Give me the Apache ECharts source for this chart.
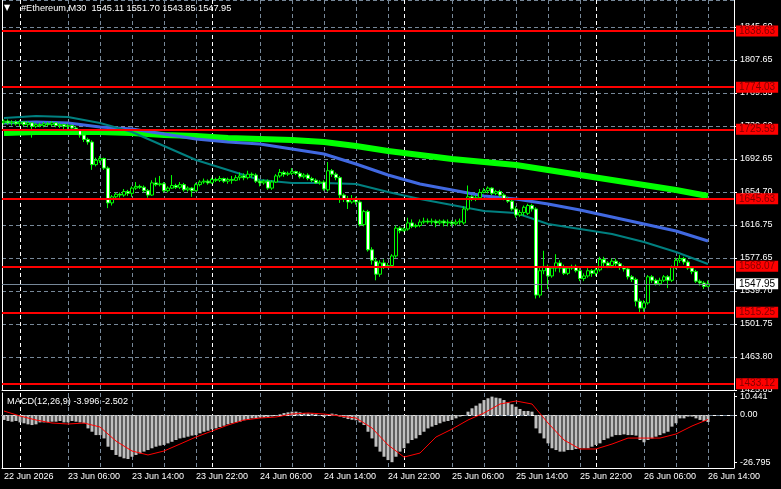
<!DOCTYPE html>
<html>
<head>
<meta charset="utf-8">
<script src="https://cdn.jsdelivr.net/npm/echarts@6/dist/echarts.min.js"></script>
<style>
html, body { margin: 0; padding: 0; background: #000; }
#chart { width: 781px; height: 489px; }
</style>
</head>
<body>
<div id="chart"></div>
<script>
// M30 bars, [open, close, low, high]
var candles = [
    [1733,1735,1731,1737],[1735,1733,1731,1737],[1733,1734,1730,1736],[1734,1732,1730,1736],
    [1732,1734,1729,1736],[1734,1731,1729,1735],[1731,1733,1728,1735],[1733,1729,1716,1734],
    [1729,1731,1727,1733],[1731,1730,1728,1733],[1730,1732,1728,1734],[1732,1731,1729,1734],
    [1731,1733,1729,1735],[1733,1730,1728,1734],[1730,1731,1727,1733],[1731,1729,1726,1732],
    [1729,1730,1726,1732],[1730,1727,1724,1731],[1727,1724,1721,1729],[1724,1719,1716,1726],
    [1719,1714,1711,1721],[1714,1711,1708,1716],[1711,1685,1679,1713],[1685,1690,1683,1693],
    [1690,1692,1687,1695],[1692,1681,1679,1693],[1681,1641,1635,1683],[1641,1648,1638,1650],
    [1648,1651,1646,1653],[1651,1650,1647,1653],[1650,1654,1648,1657],[1654,1652,1649,1656],
    [1652,1658,1648,1660],[1658,1660,1656,1665],[1660,1659,1657,1662],[1659,1655,1653,1661],
    [1655,1650,1647,1657],[1650,1664,1649,1667],[1664,1662,1660,1670],[1662,1663,1660,1672],
    [1663,1655,1653,1665],[1655,1658,1653,1660],[1658,1661,1657,1673],[1661,1659,1657,1663],
    [1659,1662,1657,1665],[1662,1656,1654,1664],[1656,1658,1654,1660],[1658,1655,1648,1659],
    [1655,1662,1654,1664],[1662,1665,1660,1667],[1665,1666,1663,1669],[1666,1664,1662,1668],
    [1664,1668,1663,1670],[1668,1667,1665,1670],[1667,1669,1665,1672],[1669,1666,1664,1670],
    [1666,1668,1663,1670],[1668,1667,1663,1672],[1667,1670,1666,1673],[1670,1672,1667,1676],
    [1672,1670,1667,1675],[1670,1674,1668,1678],[1674,1673,1670,1676],[1673,1666,1664,1675],
    [1666,1664,1660,1668],[1664,1666,1662,1668],[1666,1658,1656,1668],[1658,1665,1656,1667],
    [1665,1672,1664,1674],[1672,1676,1670,1680],[1676,1674,1671,1678],[1674,1675,1672,1677],
    [1675,1677,1673,1681],[1677,1675,1673,1678],[1675,1671,1669,1677],[1671,1673,1669,1675],
    [1673,1669,1667,1675],[1669,1667,1665,1671],[1667,1664,1663,1669],[1664,1665,1662,1667],
    [1665,1657,1655,1667],[1656,1678,1654,1688],[1678,1674,1671,1680],[1674,1670,1667,1676],
    [1670,1650,1641,1672],[1650,1645,1642,1652],[1645,1642,1634,1649],[1642,1646,1640,1650],
    [1646,1642,1639,1648],[1642,1616,1614,1644],[1616,1631,1614,1633],[1631,1587,1585,1633],
    [1587,1575,1570,1590],[1574,1559,1552,1578],[1559,1572,1556,1575],[1572,1567,1565,1576],
    [1567,1569,1566,1572],[1569,1580,1567,1582],[1580,1612,1578,1615],[1612,1609,1606,1614],
    [1609,1611,1608,1613],[1611,1618,1609,1624],[1618,1614,1612,1622],[1614,1615,1612,1617],
    [1615,1619,1613,1622],[1619,1620,1617,1624],[1620,1619,1617,1623],[1619,1620,1616,1623],
    [1620,1618,1613,1622],[1618,1620,1616,1622],[1620,1618,1614,1622],[1618,1619,1614,1622],
    [1619,1617,1614,1621],[1617,1619,1615,1622],[1619,1620,1616,1623],[1618,1634,1616,1637],
    [1634,1648,1632,1661],[1648,1645,1643,1650],[1645,1647,1643,1650],[1647,1653,1645,1657],
    [1653,1655,1652,1658],[1655,1658,1652,1660],[1658,1652,1650,1659],[1652,1654,1650,1656],
    [1654,1650,1648,1656],[1650,1646,1644,1652],[1646,1643,1641,1648],[1643,1634,1632,1645],
    [1634,1627,1624,1637],[1627,1630,1625,1633],[1630,1636,1626,1638],[1629,1638,1627,1640],
    [1638,1634,1631,1640],[1634,1535,1531,1636],[1535,1563,1532,1567],[1563,1568,1559,1586],
    [1568,1557,1542,1570],[1557,1566,1555,1568],[1566,1572,1562,1582],[1572,1566,1561,1575],
    [1566,1560,1558,1570],[1560,1566,1558,1568],[1566,1568,1564,1570],[1568,1563,1561,1570],
    [1563,1554,1551,1566],[1554,1557,1551,1560],[1557,1563,1555,1566],[1563,1560,1556,1565],
    [1560,1564,1557,1566],[1564,1576,1562,1579],[1576,1572,1568,1579],[1572,1569,1566,1574],
    [1569,1574,1566,1577],[1574,1571,1567,1577],[1571,1567,1564,1573],[1567,1565,1562,1569],
    [1565,1556,1553,1567],[1556,1553,1550,1558],[1553,1528,1522,1555],[1528,1520,1514,1531],
    [1520,1526,1516,1529],[1526,1556,1524,1558],[1556,1552,1549,1558],[1552,1548,1546,1554],
    [1548,1552,1546,1555],[1552,1556,1550,1558],[1556,1552,1543,1558],[1552,1567,1550,1569],
    [1567,1575,1565,1578],[1575,1577,1572,1581],[1577,1573,1570,1579],[1573,1566,1564,1575],
    [1566,1562,1559,1568],[1562,1551,1549,1564],[1551,1549,1546,1553],[1549,1545,1542,1551],
    [1545.11,1547.95,1543.85,1551.70]
];

// moving averages, read every 8 bars
var maStep = 8;
var maFast = [1738.65,1740.95,1739.8,1732.9,1722.55,1706.45,1690.35,1678.85,1667.35,1663.9,1663.9,1662.75,
    1653.55,1645.5,1638.6,1631.7,1629.4,1616.75,1611.0,1605.25,1596.05,1584.55,1570.75];
var maMid = [1732.9,1734.05,1732.9,1728.3,1726.0,1720.25,1714.5,1711.05,1708.75,1703.0,1697.25,1685.75,
    1673.1,1662.75,1655.85,1648.95,1645.5,1639.75,1632.85,1624.8,1616.75,1608.7,1597.2];
var maSlow = [1721.4,1722.55,1722.55,1722.55,1721.4,1719.1,1717.95,1715.65,1714.5,1713.35,1711.05,1706.45,
    1700.7,1696.1,1691.5,1688.05,1684.6,1678.85,1673.1,1667.35,1661.6,1655.85,1648.95];

// MACD(12,26,9): main line per bar, signal read every 4 bars
var macdMain = [
    -2.8,-3.4,-3.8,-3.4,-4.2,-4.7,-5.3,-5.7,-5.3,-4.2,-4.2,-4.2,-3.8,-3.8,-3.4,-4.2,-4.2,-3.4,-3.8,-4.2,-4.7,
    -7.6,-9.5,-11.4,-11.4,-13.3,-18.0,-19.9,-22.7,-23.7,-24.6,-25.0,
    -23.7,-22.7,-21.8,-20.8,-19.9,-18.9,-18.0,-17.4,-17.0,-16.1,-15.2,-14.2,-13.3,-12.9,-12.3,-11.7,-11.4,
    -10.4,-9.5,-8.9,-8.1,-7.6,-6.8,-6.1,-5.3,-4.7,-4.2,-3.8,-3.0,-2.7,-1.9,-1.9,-1.5,-1.5,-1.1,-0.8,-0.4,
    0.4,1.1,1.5,1.9,1.9,1.5,1.1,0.9,0.8,0.4,0.0,-1.1,0.4,0.8,0.4,-0.9,-1.5,-2.3,-2.7,-3.0,-4.2,-5.7,-9.5,
    -13.3,-18.0,-20.8,-23.7,-25.6,
    -26.795,-23.7,-20.8,-18.9,-16.1,-14.2,-13.3,-11.4,-9.5,-7.6,-6.6,-5.7,-4.7,-3.8,-3.4,-2.8,-1.9,-0.9,-0.4,
    1.9,3.8,5.3,6.6,8.5,9.5,10.441,9.85,9.5,8.5,7.2,6.1,4.7,3.4,2.3,2.3,1.9,
    -7.6,-10.4,-13.3,-16.1,-18.9,-19.9,-20.8,-20.8,-19.9,-19.9,-19.3,-18.9,-18.9,-18.9,-18.0,-17.0,-16.1,
    -14.2,-13.3,-12.3,-11.4,-11.4,-11.0,-11.4,-11.4,-11.7,-14.2,-15.5,-14.2,-13.3,-12.3,-11.4,-10.4,-9.5,
    -6.6,-4.7,-1.9,-1.9,-0.9,-0.9,-1.9,-2.8,-3.4,-3.996
];
var signalStep = 4;
var macdSignal = [2.27,-0.57,-2.84,-4.55,-5.11,-4.55,-6.82,-14.8,-20.45,-22.7,-20.45,-16.5,-12.5,-9.1,-5.7,
    -2.84,-1.7,-1.14,0.57,1.14,0.57,-0.57,-1.7,-7.4,-17.0,-23.9,-21.6,-12.5,-8.0,-2.84,1.14,6.25,7.95,6.25,
    -4.55,-14.2,-19.3,-19.3,-16.5,-13.1,-13.1,-13.1,-10.8,-6.25,-2.502];

var levels = [1838.63, 1774.03, 1725.59, 1645.63, 1568.07, 1515.25, 1433.12];
var lastPrice = 1547.95;

var priceTicks = ['1425.85','1463.80','1501.75','1539.70','1577.65','1616.75','1654.70','1692.65',
    '1730.60','1769.55','1807.65','1845.60'];
var macdTicks = [10.441, 0, -26.795];
var timeTicks = ['22 Jun 2026','23 Jun 06:00','23 Jun 14:00','23 Jun 22:00','24 Jun 06:00','24 Jun 14:00',
    '24 Jun 22:00','25 Jun 06:00','25 Jun 14:00','25 Jun 22:00','26 Jun 06:00','26 Jun 14:00'];
var tickEvery = 16;

var slotCount = 183;
var months = ['Jan','Feb','Mar','Apr','May','Jun','Jul','Aug','Sep','Oct','Nov','Dec'];
var start = Date.UTC(2026, 5, 22, 22, 0);
var cats = [];
for (var n = 0; n < slotCount; n++) {
    var d = new Date(start + n * 1800000);
    cats.push(d.getUTCDate() + ' ' + months[d.getUTCMonth()] + ' ' +
        ('0' + d.getUTCHours()).slice(-2) + ':' + ('0' + d.getUTCMinutes()).slice(-2));
}

function spread(values, step) {
    var out = [];
    for (var i = 0; i < candles.length; i++) {
        out.push(i % step === 0 ? values[i / step] : null);
    }
    return out;
}

var font = 'Liberation Sans';
var gridGray = '#778899';

// 4-hour grid (no line at 02:00), white dashed separator at midnight
function isGridLine(i) { return i > 0 && i % 8 === 0 && i % 48 !== 8 && i < candles.length; }
function isSeparator(i) { return i % 48 === 4; }

function xAxis(grid, position, lineFn, color) {
    return {
        type: 'category', gridIndex: grid, position: position, data: cats, boundaryGap: true,
        axisLine: { show: false },
        axisTick: { show: false },
        axisLabel: { show: false },
        splitLine: {
            show: true, interval: function (i) { return lineFn(i); }, alignWithLabel: true,
            lineStyle: { color: color, width: 1, type: [4, 3] }
        }
    };
}

var xMain = xAxis(0, 'bottom', isGridLine, gridGray);
xMain.axisLine = { show: true, lineStyle: { color: '#fff', width: 1 } };
var xMainSep = xAxis(0, 'top', isSeparator, '#fff');
var xMacd = xAxis(1, 'bottom', isGridLine, gridGray);
xMacd.axisLine = { show: true, lineStyle: { color: '#fff', width: 1 } };
xMacd.axisTick = {
    show: true, alignWithLabel: true, length: 3, lineStyle: { color: '#fff' },
    interval: function (i) { return i % tickEvery === 0 && i < candles.length; }
};
xMacd.axisLabel = {
    show: true, color: '#fff', fontFamily: font, fontSize: 9, margin: 4, align: 'left',
    interval: function (i) { return i % tickEvery === 0 && i < candles.length; },
    formatter: function (v, i) { return timeTicks[i / tickEvery] || ''; }
};
var xMacdSep = xAxis(1, 'top', isSeparator, '#fff');
xMacdSep.axisLine = { show: true, lineStyle: { color: '#fff', width: 1 } };

var priceMin = 1425.85, priceStep = 37.95;

function borderAxis(grid) {
    return {
        type: 'value', gridIndex: grid, position: 'left',
        axisLine: { show: true, lineStyle: { color: '#fff' } },
        axisTick: { show: false }, axisLabel: { show: false }, splitLine: { show: false }
    };
}

var levelLines = levels.map(function (v) {
    return {
        yAxis: v,
        lineStyle: { color: '#ff0000', width: 2, type: 'solid' },
        label: { backgroundColor: '#ff0000', color: '#800000' }
    };
});
levelLines.push({
    yAxis: lastPrice,
    lineStyle: { color: '#778899', width: 1, type: 'solid' },
    label: { backgroundColor: '#ffffff', color: '#000000' }
});

var option = {
    backgroundColor: '#000',
    animation: false,
    title: [
        { text: '\u25BC', left: 4, top: 4, padding: 0,
          textStyle: { color: '#fff', fontSize: 8, fontFamily: 'DejaVu Sans', fontWeight: 'normal' } },
        { text: '#Ethereum,M30  1545.11 1551.70 1543.85 1547.95', left: 21, top: 4, padding: 0,
          textStyle: { color: '#fff', fontSize: 9.2, fontFamily: font, fontWeight: 'normal' } },
        { text: 'MACD(12,26,9) -3.996 -2.502', left: 7, top: 397, padding: 0,
          textStyle: { color: '#fff', fontSize: 9.2, fontFamily: font, fontWeight: 'normal' } }
    ],
    grid: [
        { left: 2, right: 47, top: 0, height: 390 },
        { left: 2, right: 47, top: 393, height: 75 }
    ],
    xAxis: [xMain, xMainSep, xMacd, xMacdSep],
    yAxis: [
        {
            type: 'value', gridIndex: 0, position: 'right',
            min: priceMin, max: 1874.3, interval: priceStep,
            axisLine: { show: true, lineStyle: { color: '#fff' } },
            axisTick: { show: true, length: 3, lineStyle: { color: '#fff' } },
            axisLabel: {
                color: '#fff', fontFamily: font, fontSize: 9, margin: 6, showMaxLabel: false,
                formatter: function (v) {
                    return priceTicks[Math.round((v - priceMin) / priceStep)] || '';
                }
            },
            splitLine: { show: true, lineStyle: { color: gridGray, width: 1, type: [4, 3] } }
        },
        borderAxis(0),
        {
            type: 'value', gridIndex: 1, position: 'right', min: -30.1, max: 12.5,
            axisLine: { show: true, lineStyle: { color: '#fff' } },
            axisTick: { show: true, length: 3, customValues: macdTicks, lineStyle: { color: '#fff' } },
            axisLabel: {
                color: '#fff', fontFamily: font, fontSize: 9, margin: 6, customValues: macdTicks,
                formatter: function (v) { return v === 0 ? '0.00' : v.toFixed(3); }
            },
            splitLine: { show: false }
        },
        borderAxis(1)
    ],
    series: [
        {
            name: 'MA slow', type: 'line', xAxisIndex: 0, yAxisIndex: 0,
            data: spread(maSlow, maStep), connectNulls: true, showSymbol: false, symbol: 'none',
            lineStyle: { color: '#00ff00', width: 6 }, z: 2
        },
        {
            name: 'MA mid', type: 'line', xAxisIndex: 0, yAxisIndex: 0,
            data: spread(maMid, maStep), connectNulls: true, showSymbol: false, symbol: 'none',
            lineStyle: { color: '#4169e1', width: 3 }, z: 2
        },
        {
            name: 'MA fast', type: 'line', xAxisIndex: 0, yAxisIndex: 0,
            data: spread(maFast, maStep), connectNulls: true, showSymbol: false, symbol: 'none',
            lineStyle: { color: '#008080', width: 2 }, z: 2
        },
        {
            name: '#Ethereum', type: 'candlestick', xAxisIndex: 0, yAxisIndex: 0,
            data: candles, barWidth: 3, z: 3,
            itemStyle: {
                color: '#000000', color0: '#ffffff',
                borderColor: '#00ff00', borderColor0: '#00ff00', borderWidth: 1
            },
            markLine: {
                silent: true, symbol: ['none', 'none'], animation: false,
                label: {
                    show: true, position: 'end', distance: 2, padding: [1, 3, 0, 3],
                    fontFamily: font, fontSize: 10, lineHeight: 10,
                    formatter: function (p) { return p.value.toFixed(2); }
                },
                data: levelLines
            }
        },
        {
            name: 'MACD', type: 'bar', xAxisIndex: 2, yAxisIndex: 2,
            data: macdMain, barWidth: 3, itemStyle: { color: '#c0c0c0' }, z: 2,
            markLine: {
                silent: true, symbol: ['none', 'none'], z: 1, label: { show: false },
                lineStyle: { color: gridGray, width: 1, type: [4, 3] },
                data: [{ yAxis: 0 }]
            }
        },
        {
            name: 'Signal', type: 'line', xAxisIndex: 2, yAxisIndex: 2,
            data: spread(macdSignal, signalStep), connectNulls: true, showSymbol: false, symbol: 'none',
            lineStyle: { color: '#ff0000', width: 1 }, z: 3
        }
    ]
};

var chart = echarts.init(document.getElementById('chart'));
chart.setOption(option);
</script>
</body>
</html>
